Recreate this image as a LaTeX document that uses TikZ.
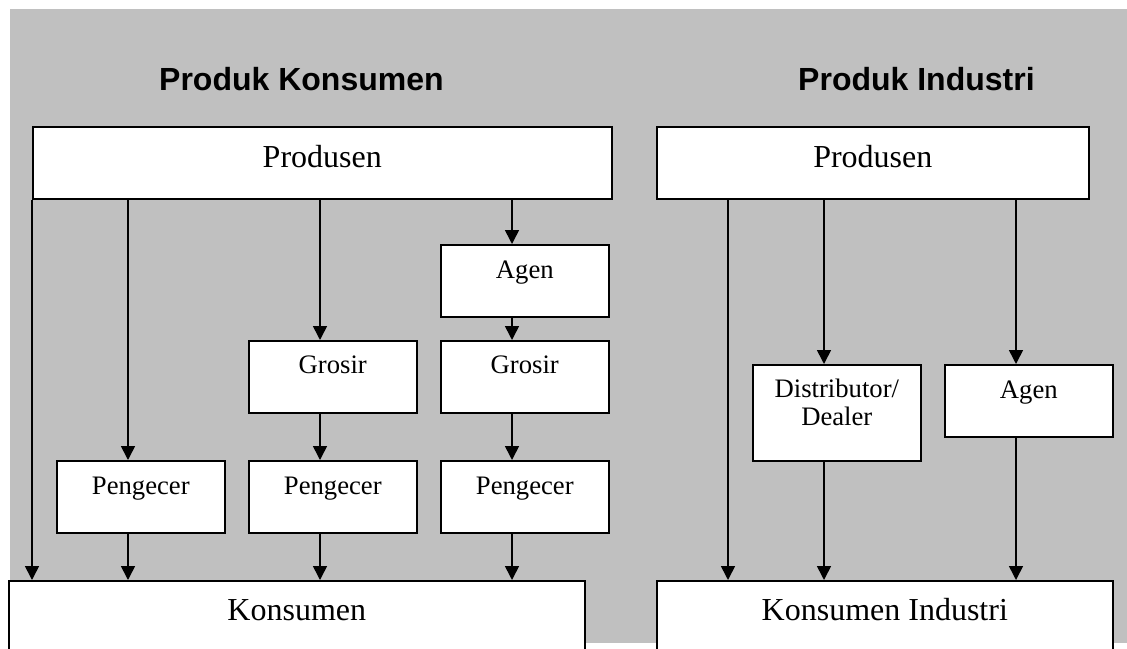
\documentclass[tikz,border=0pt]{standalone}
\usepackage{fontspec}
\setmainfont{Liberation Serif}
\newfontfamily\headfont{Liberation Sans}
\usetikzlibrary{arrows.meta}
\definecolor{panel}{RGB}{192,192,192}
\begin{document}
\begin{tikzpicture}[x=1pt,y=-1pt,
  box/.style={draw=black, line width=1.6pt, fill=white, inner sep=0pt, anchor=north west},
  bigbox/.style={box, font=\fontsize{32}{36}\selectfont},
  smallbox/.style={box, minimum width=168pt, font=\fontsize{26.67}{31}\selectfont},
  title/.style={anchor=base west, inner sep=0pt, font=\headfont\bfseries\fontsize{32}{36}\selectfont},
  arr/.style={line width=1.6pt, -{Triangle[width=14pt,length=14pt]}}]
% canvas and grey panel
\useasboundingbox (0,0) rectangle (1127,648);
\clip (0,0) rectangle (1127,648);
\fill[white] (0,0) rectangle (1127,648);
\fill[panel] (10,9) rectangle (1127,643);

% headings
\node[title] (tcons) at (159,90) {Produk Konsumen};
\node[title] (tind)  at (798,90) {Produk Industri};

% consumer channel
\node[bigbox, minimum width=579pt, text height=41pt, text depth=31pt] (prodA) at (32,126) {Produsen};
\node[smallbox, text height=34pt, text depth=38pt] (agenA)  at (440,244) {Agen};
\node[smallbox, text height=33pt, text depth=39pt] (gros2)  at (248,340) {Grosir};
\node[smallbox, text height=33pt, text depth=39pt] (gros3)  at (440,340) {Grosir};
\node[smallbox, text height=34pt, text depth=38pt] (peng1)  at (56,460)  {Pengecer};
\node[smallbox, text height=34pt, text depth=38pt] (peng2)  at (248,460) {Pengecer};
\node[smallbox, text height=34pt, text depth=38pt] (peng3)  at (440,460) {Pengecer};
\node[bigbox, minimum width=576pt, text height=40pt, text depth=40pt] (kons) at (8,580) {Konsumen};

% industrial channel
\node[bigbox, minimum width=432pt, text height=41pt, text depth=31pt] (prodB) at (656,126) {Produsen};
\node[smallbox, text height=33pt, text depth=63pt] (dist) at (752,364)
  {\begin{tabular}[t]{@{}c@{}}Distributor/\\[-3pt]Dealer\end{tabular}};
\node[smallbox, text height=34pt, text depth=38pt] (agenB) at (944,364) {Agen};
\node[bigbox, minimum width=456pt, text height=40pt, text depth=40pt] (konsInd) at (656,580) {Konsumen Industri};

% connector columns
\coordinate (c1) at (32,0);
\coordinate (c2) at (128,0);
\coordinate (c3) at (320,0);
\coordinate (c4) at (512,0);
\coordinate (c5) at (728,0);
\coordinate (c6) at (824,0);
\coordinate (c7) at (1016,0);

% consumer flows
\draw[arr] (prodA.south -| c1) -- (kons.north -| c1);
\draw[arr] (prodA.south -| c2) -- (peng1.north -| c2);
\draw[arr] (peng1.south -| c2) -- (kons.north -| c2);
\draw[arr] (prodA.south -| c3) -- (gros2.north -| c3);
\draw[arr] (gros2.south -| c3) -- (peng2.north -| c3);
\draw[arr] (peng2.south -| c3) -- (kons.north -| c3);
\draw[arr] (prodA.south -| c4) -- (agenA.north -| c4);
\draw[arr] (agenA.south -| c4) -- (gros3.north -| c4);
\draw[arr] (gros3.south -| c4) -- (peng3.north -| c4);
\draw[arr] (peng3.south -| c4) -- (kons.north -| c4);

% industrial flows
\draw[arr] (prodB.south -| c5) -- (konsInd.north -| c5);
\draw[arr] (prodB.south -| c6) -- (dist.north -| c6);
\draw[arr] (dist.south -| c6) -- (konsInd.north -| c6);
\draw[arr] (prodB.south -| c7) -- (agenB.north -| c7);
\draw[arr] (agenB.south -| c7) -- (konsInd.north -| c7);
\end{tikzpicture}
\end{document}
